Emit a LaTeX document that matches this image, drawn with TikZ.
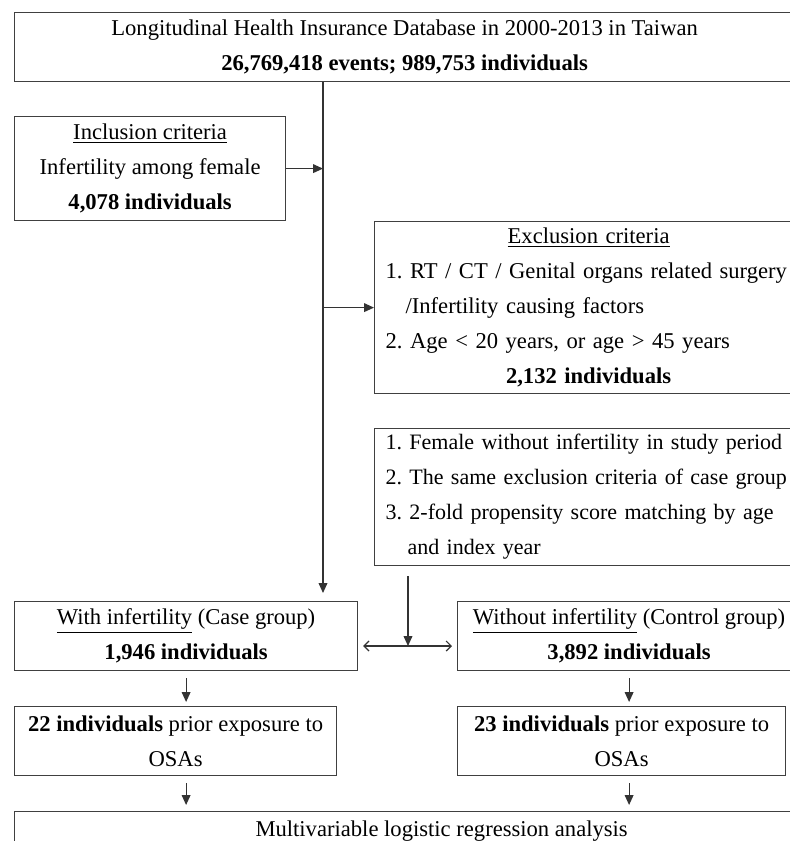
\documentclass[tikz,border=0pt]{standalone}
\usepackage{fontspec}
\setmainfont{Liberation Serif}
\usetikzlibrary{arrows.meta,positioning}
\newcommand{\lft}[1]{\makebox[203pt][l]{#1}}

\begin{document}
\frenchspacing
\begin{tikzpicture}[x=0.5pt,y=-0.5pt,
  box/.style={draw=black!75,line width=0.6pt,anchor=north west,align=center,
    inner sep=0pt,font=\fontsize{11.3}{17.5}\selectfont},
  listbox/.style={box,text width=203pt,inner xsep=5.5pt,minimum width=214pt},
  arr/.style={-{Triangle[length=5pt,width=4.4pt]},line width=0.6pt,black!80},
  dbl/.style={{Straight Barb[length=2.5pt,width=5pt]}-{Straight Barb[length=2.5pt,width=5pt]},line width=0.6pt,black!80}]
  \useasboundingbox (0,0) rectangle (790,841);
  \node[box,minimum width=390pt,minimum height=34.5pt] (db) at (14,12) {Longitudinal Health Insurance Database in 2000-2013 in Taiwan\\\textbf{26,769,418 events; 989,753 individuals}};
  \node[box,minimum width=135.5pt,minimum height=52pt] (incl) at (14,116) {\underline{Inclusion criteria}\\Infertility among female\\\textbf{4,078 individuals}};
  \node[listbox,minimum height=86pt] (excl) at (374,221) {\underline{Exclusion criteria}\\\makebox[203pt][s]{1. RT / CT / Genital organs related surgery}\\\lft{\hspace*{10pt}/Infertility causing factors}\\\lft{2. Age < 20 years, or age > 45 years}\\\textbf{2,132 individuals}};
  \node[listbox,align=left,text width=218pt,minimum height=68.5pt,font=\fontsize{11}{17.5}\selectfont] (ctrlcrit) at (374,428) {1. Female without infertility in study period\\2. The same exclusion criteria of case group\\3. 2-fold propensity score matching by age\\\hspace*{11pt}and index year};
  \node[box,minimum width=171.5pt,minimum height=34.5pt] (case) at (14,601) {\underline{With infertility} (Case group)\\\textbf{1,946 individuals}};
  \node[box,minimum width=171.5pt,minimum height=34.5pt] (ctrl) at (457,601) {\underline{Without infertility} (Control group)\\\textbf{3,892 individuals}};
  \node[box,minimum width=161pt,minimum height=34.5pt] (osacase) at (14,706) {\textbf{22 individuals} prior exposure to\\OSAs};
  \node[box,minimum width=164pt,minimum height=34.5pt] (osactrl) at (457,706) {\textbf{23 individuals} prior exposure to\\OSAs};
  \node[box,minimum width=427pt,minimum height=19pt] (final) at (14,811) {Multivariable logistic regression analysis};
  \coordinate (trunk) at (323,0);
  \coordinate (match) at (408,646);
  \draw[arr] (trunk |- db.south) -- ([yshift=4pt]trunk |- case.north);
  \draw[arr] (incl.east) -- (incl.east -| trunk);
  \draw[arr] (excl.west -| trunk) -- (excl.west);
  \draw[arr] ([yshift=-5pt]ctrlcrit.south -| match) -- (match);
  \draw[dbl] ([xshift=2.5pt]case.east |- match) -- ([xshift=-2.5pt]ctrl.west |- match);
  \draw[arr] ([yshift=-3.5pt]case.south) -- ([yshift=2pt]case.south |- osacase.north);
  \draw[arr] ([yshift=-3.5pt]ctrl.south) -- ([yshift=2pt]ctrl.south |- osactrl.north);
  \draw[arr] ([yshift=-3.5pt]case.south |- osacase.south) -- ([yshift=3pt]case.south |- final.north);
  \draw[arr] ([yshift=-3.5pt]ctrl.south |- osactrl.south) -- ([yshift=3pt]ctrl.south |- final.north);
\end{tikzpicture}
\end{document}
